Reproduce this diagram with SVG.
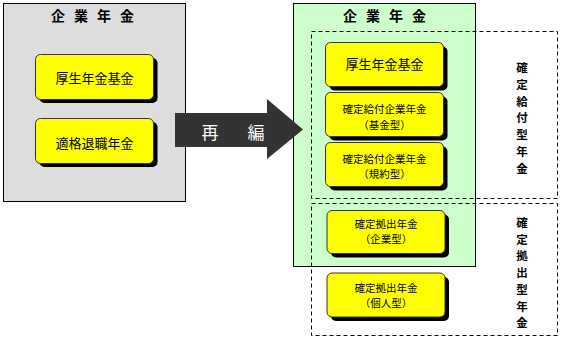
<svg xmlns="http://www.w3.org/2000/svg" width="565" height="340" viewBox="0 0 565 340">
<style>
.panel{stroke:#000;stroke-width:1}
.dash{fill:none;stroke:#000;stroke-width:1;stroke-dasharray:4 3}
.box{fill:#FFFF00;stroke:#333;stroke-width:1}
.shadow{fill:#000}
text{font-family:"Noto Sans CJK JP","Noto Sans CJK SC",sans-serif;fill:#000;text-anchor:middle;dominant-baseline:central}
.title{font-size:14px;font-weight:bold}
.big{font-size:13px}
.small{font-size:10.5px}
.vert{font-size:11.5px;font-weight:bold}
.arrowtxt{font-size:17px;fill:#fff}
</style>
<rect width="565" height="340" fill="#fff"/>

<g id="left-panel">
<rect class="panel" x="3.5" y="3.5" width="182" height="198" fill="#DDDDDD"/>
<text class="title" x="58" y="15">企</text><text class="title" x="81" y="15">業</text><text class="title" x="104" y="15">年</text><text class="title" x="127" y="15">金</text>
</g>

<g id="left-kosei">
<rect class="shadow" x="39.5" y="58" width="118" height="45" rx="5"/>
<rect class="box" x="35.5" y="54.5" width="118" height="45" rx="5"/>
<text class="big" x="94.5" y="77">厚生年金基金</text>
</g>

<g id="left-tekikaku">
<rect class="shadow" x="39.5" y="122" width="118" height="45" rx="5"/>
<rect class="box" x="35.5" y="118.5" width="118" height="45" rx="5"/>
<text class="big" x="94.5" y="142">適格退職年金</text>
</g>

<g id="right-panel">
<rect class="panel" x="293.5" y="3.5" width="182" height="263" fill="#CCFFCC"/>
<text class="title" x="350" y="15">企</text><text class="title" x="373" y="15">業</text><text class="title" x="396" y="15">年</text><text class="title" x="419" y="15">金</text>
</g>

<g id="db-group">
<rect class="dash" x="311.5" y="31.5" width="246" height="167"/>
<text class="vert" x="522" y="67">確</text><text class="vert" x="522" y="83.8">定</text><text class="vert" x="522" y="100.6">給</text><text class="vert" x="522" y="117.4">付</text><text class="vert" x="522" y="134.2">型</text><text class="vert" x="522" y="151">年</text><text class="vert" x="522" y="167.8">金</text>
</g>

<g id="dc-group">
<rect class="dash" x="311.5" y="203.5" width="246" height="132"/>
<text class="vert" x="522" y="222">確</text><text class="vert" x="522" y="238.7">定</text><text class="vert" x="522" y="255.4">拠</text><text class="vert" x="522" y="272.1">出</text><text class="vert" x="522" y="288.8">型</text><text class="vert" x="522" y="305.5">年</text><text class="vert" x="522" y="322.2">金</text>
</g>

<g id="right-kosei">
<rect class="shadow" x="329.5" y="46.5" width="118" height="44" rx="5"/>
<rect class="box" x="325.5" y="42.5" width="118" height="44" rx="5"/>
<text class="big" x="384.5" y="63.5">厚生年金基金</text>
</g>

<g id="db-kikin">
<rect class="shadow" x="329.5" y="96.5" width="118" height="44" rx="5"/>
<rect class="box" x="325.5" y="92.5" width="118" height="44" rx="5"/>
<text class="small" x="384.5" y="108.5">確定給付企業年金</text>
<text class="small" x="384.5" y="124">（基金型）</text>
</g>

<g id="db-kiyaku">
<rect class="shadow" x="329.5" y="146.5" width="118" height="44" rx="5"/>
<rect class="box" x="325.5" y="142.5" width="118" height="44" rx="5"/>
<text class="small" x="384.5" y="158">確定給付企業年金</text>
<text class="small" x="384.5" y="173.5">（規約型）</text>
</g>

<g id="dc-kigyo">
<rect class="shadow" x="331" y="214.5" width="118" height="43" rx="5"/>
<rect class="box" x="327" y="210.5" width="118" height="43" rx="5"/>
<text class="small" x="386" y="223">確定拠出年金</text>
<text class="small" x="386" y="238.5">（企業型）</text>
</g>

<g id="dc-kojin">
<rect class="shadow" x="331" y="277" width="118" height="44" rx="5"/>
<rect class="box" x="327" y="273" width="118" height="44" rx="5"/>
<text class="small" x="386" y="287">確定拠出年金</text>
<text class="small" x="386" y="302.5">（個人型）</text>
</g>

<g id="connectors">
<polygon points="175,113 267,113 267,99 303,129.5 267,159 267,147 175,147" fill="#333333"/>
<text class="arrowtxt" x="210" y="131">再</text>
<text class="arrowtxt" x="256" y="131">編</text>
</g>
</svg>
